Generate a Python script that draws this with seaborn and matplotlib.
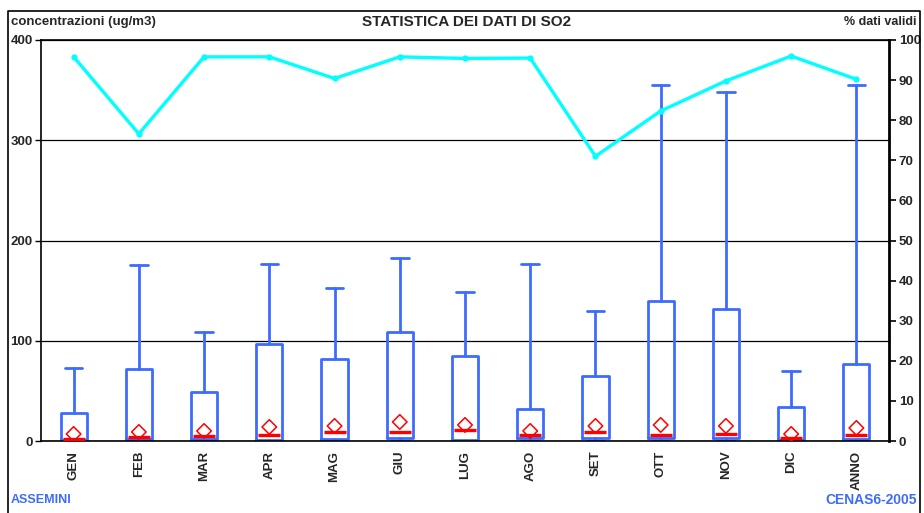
import numpy as np
import matplotlib
matplotlib.use("Agg")
import matplotlib.pyplot as plt
from matplotlib.lines import Line2D
import seaborn as sns

# dati
mesi = ["GEN", "FEB", "MAR", "APR", "MAG", "GIU", "LUG", "AGO", "SET", "OTT", "NOV", "DIC", "ANNO"]
minimo = [0, 0, 0, 0, 0, 0, 0, 0, 0, 0, 0, 0, 0]
q1 = [1, 2, 2, 1, 2, 3, 1, 3, 3, 3, 3, 1, 2]
mediana = [2, 4, 5, 6, 9, 9, 11, 6, 9, 6, 7, 3, 6]
q3 = [28, 72, 49, 97, 82, 109, 85, 32, 65, 140, 132, 34, 77]
massimo = [73, 176, 109, 177, 153, 183, 149, 177, 130, 355, 348, 70, 355]
media = [7, 9, 10, 14, 15, 19, 16, 10, 15, 16, 15, 7, 13]
perc_validi = [95.8, 76.6, 95.8, 95.8, 90.4, 95.8, 95.4, 95.5, 71.0, 82.3, 89.8, 96.0, 90.2]

sns.set_style("white")
plt.rcParams["font.family"] = ["Liberation Sans", "DejaVu Sans"]

blu = "#3D6BFF"
pos = np.arange(len(mesi))

fig = plt.figure(figsize=(9.24, 5.13), dpi=100)
ax = fig.add_axes([41 / 924, 1 - 441 / 513, (889 - 41) / 924, 401 / 513])

stats = []
for i in range(len(mesi)):
    stats.append({"whislo": minimo[i], "q1": q1[i], "med": mediana[i],
                  "q3": q3[i], "whishi": massimo[i], "fliers": []})

ax.bxp(stats, positions=pos, widths=0.4, capwidths=0.27, showfliers=False,
       boxprops=dict(color=blu, linewidth=2),
       whiskerprops=dict(color=blu, linewidth=2),
       capprops=dict(color=blu, linewidth=2),
       medianprops=dict(linewidth=0))

# mediane e medie
sns.scatterplot(x=pos, y=mediana, ax=ax, marker="_", s=260, color="red",
                linewidth=2.4, zorder=5)
sns.scatterplot(x=pos, y=media, ax=ax, marker="D", s=55, facecolor="none",
                edgecolor="red", linewidth=1.1, zorder=5)

ax.set_xlim(-0.5, len(mesi) - 0.5)
ax.set_ylim(0, 400)
ax.set_yticks([0, 100, 200, 300, 400])
ax.set_yticklabels(["0", "100", "200", "300", "400"], fontweight="bold", fontsize=9.5)
ax.set_xticks(pos)
ax.set_xticklabels(mesi, rotation=90, fontweight="bold", fontsize=9.5)
ax.tick_params(axis="x", which="major", length=0, pad=7)
ax.set_xticks(pos[:-1] + 0.5, minor=True)
ax.tick_params(axis="x", which="minor", length=6, direction="inout", width=1, color="black")
ax.tick_params(axis="y", length=4, width=1, direction="out", color="black", pad=2)
ax.yaxis.grid(True, color="black", linewidth=0.9)
ax.set_axisbelow(True)
for s in ["left", "bottom", "top"]:
    ax.spines[s].set_color("black")
    ax.spines[s].set_linewidth(1.2)
ax.spines["right"].set_visible(False)

# percentuale dati validi
ax2 = ax.twinx()
sns.lineplot(x=pos, y=perc_validi, ax=ax2, color="#00FFFF", linewidth=2.4,
             marker="o", markersize=4.5, markeredgewidth=0)
ax2.set_ylim(0, 100)
ax2.set_yticks(range(0, 101, 10))
ax2.set_yticklabels([str(v) for v in range(0, 101, 10)], fontweight="bold", fontsize=9.5)
ax2.tick_params(axis="y", length=5, width=1.2, direction="out", color="black", pad=2)
ax2.spines["right"].set_color("black")
ax2.spines["right"].set_linewidth(2)
for s in ["left", "bottom", "top"]:
    ax2.spines[s].set_visible(False)
ax2.set_xlim(-0.5, len(mesi) - 0.5)

# testi
fig.text(11 / 924, 1 - 22 / 513, "concentrazioni (ug/m3)", fontsize=9.5,
         fontweight="bold", va="center", ha="left")
fig.text(467 / 924, 1 - 22 / 513, "STATISTICA DEI DATI DI SO2", fontsize=11,
         fontweight="bold", va="center", ha="center")
fig.text(917 / 924, 1 - 22 / 513, "% dati validi", fontsize=9,
         fontweight="bold", va="center", ha="right")
fig.text(11 / 924, 1 - 500 / 513, "ASSEMINI", fontsize=9, fontweight="bold",
         color=blu, va="center", ha="left")
fig.text(917 / 924, 1 - 500 / 513, "CENAS6-2005", fontsize=10, fontweight="bold",
         color=blu, va="center", ha="right")

# cornice esterna
x0, x1, y0 = 8 / 924, 920 / 924, 1 - 11 / 513
fig.add_artist(Line2D([x0, x0, x1, x1], [0, y0, y0, 0], transform=fig.transFigure,
                      color="black", linewidth=1.2))

fig.savefig("out.png", dpi=100)
